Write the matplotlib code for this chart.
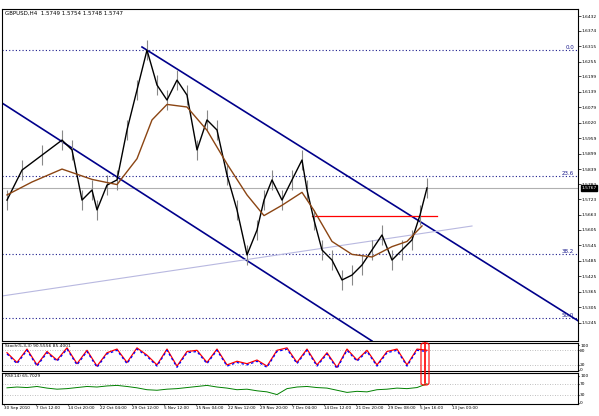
import matplotlib
matplotlib.use("Agg")
import matplotlib.pyplot as plt
from matplotlib.patches import FancyBboxPatch

# ---- data ----
bar_x = [5, 20, 40, 60, 70, 80, 90, 95, 105, 115, 125, 135, 145, 155, 165, 175, 185, 195, 205, 215,
         225, 235, 245, 255, 262, 270, 280, 290, 300, 305, 312, 320, 330, 340, 350, 360, 370, 380,
         390, 400, 410, 418, 425]
close = [1.5720, 1.5836, 1.5894, 1.5952, 1.5914, 1.5720, 1.5759, 1.5682, 1.5778, 1.5798, 1.5991,
         1.6146, 1.6300, 1.6165, 1.6107, 1.6184, 1.6126, 1.5914, 1.6030, 1.5991, 1.5817, 1.5682,
         1.5508, 1.5604, 1.5720, 1.5798, 1.5720, 1.5798, 1.5875, 1.5759, 1.5643, 1.5527, 1.5488,
         1.5411, 1.5430, 1.5469, 1.5527, 1.5585, 1.5488, 1.5527, 1.5566, 1.5662, 1.5767]
ma_x = [5, 30, 60, 90, 115, 135, 150, 165, 185, 205, 225, 245, 262, 280, 300, 312, 330, 350, 370, 390, 405, 420]
ma = [1.5740, 1.5790, 1.5840, 1.5800, 1.5780, 1.5880, 1.6030, 1.6090, 1.6080, 1.5990, 1.5860, 1.5740,
      1.5660, 1.5700, 1.5750, 1.5680, 1.5560, 1.5510, 1.5500, 1.5540, 1.5560, 1.5620]
price_ticks = [1.6432, 1.6374, 1.6315, 1.6255, 1.6199, 1.6139, 1.6079, 1.6020, 1.5959, 1.5899, 1.5839,
               1.5782, 1.5723, 1.5663, 1.5605, 1.5545, 1.5485, 1.5425, 1.5365, 1.5305, 1.5245]
fib_levels = [1.6300, 1.5813, 1.5511, 1.5264]
fib_labels = ["0.0", "23.6", "38.2", "50.0"]
date_labels = ["30 Sep 2010", "7 Oct 12:00", "14 Oct 20:00", "22 Oct 04:00", "29 Oct 12:00",
               "5 Nov 12:00", "15 Nov 04:00", "22 Nov 12:00", "29 Nov 20:00", "7 Dec 04:00",
               "14 Dec 12:00", "21 Dec 20:00", "29 Dec 08:00", "5 Jan 16:00", "13 Jan 00:00"]
stoch_x = list(range(5, 426, 10))
stoch = [70, 30, 85, 20, 75, 40, 90, 25, 80, 15, 70, 85, 30, 90, 60, 20, 85, 15, 75, 80, 30, 85, 20, 35, 25,
         40, 15, 80, 90, 30, 85, 20, 70, 10, 85, 40, 80, 20, 75, 85, 20, 85, 80]
rsi_x = list(range(5, 426, 10))
rsi = [55, 58, 56, 60, 54, 50, 52, 56, 60, 58, 62, 64, 60, 55, 48, 46, 50, 52, 56, 60, 64, 58, 54, 48,
       50, 44, 40, 30, 52, 58, 60, 56, 54, 46, 38, 42, 40, 48, 50, 54, 52, 56, 70]

W, H = 599, 416
fig = plt.figure(figsize=(W / 100, H / 100), dpi=100)
fig.patch.set_facecolor("white")
def ax_at(x0, y0, x1, y1):
    return fig.add_axes([x0 / W, 1 - y1 / H, (x1 - x0) / W, (y1 - y0) / H])

FS = 3.2
ppx = 0.1257 / 325
ytop = 1.6432 + 7 * ppx
ybot = 1.6432 - (341 - 16) * ppx
ax = ax_at(2, 9, 578, 341)
ax.set_xlim(0, 576); ax.set_ylim(ybot, ytop)
for lv, lb in zip(fib_levels, fib_labels):
    ax.axhline(lv, color="#1a1a8c", ls=(0, (1, 2)), lw=0.8)
    ax.text(572, lv, lb, fontsize=4, color="#1a1a8c", ha="right", va="bottom")
ax.axhline(close[-1], color="#b0b0b0", lw=0.8)
def yp(py): return 1.6432 - (py - 16) * ppx
ax.plot([140, 578], [yp(47), yp(322)], color="#00008b", lw=1.2)
ax.plot([0, 370], [yp(103), yp(341)], color="#00008b", lw=1.2)
ax.plot([0, 470], [yp(296), yp(226)], color="#b8b8e0", lw=0.8)
ax.plot([310, 435], [yp(216), yp(216)], color="red", lw=0.9)
ax.vlines(bar_x, [c - 0.004 for c in close], [c + 0.004 for c in close], color="#888888", lw=0.8)
ax.plot(bar_x, close, color="black", lw=1.0)
ax.plot(ma_x, ma, color="#8b4513", lw=1.0)
ax.set_xticks([]); ax.yaxis.tick_right()
ax.set_yticks(price_ticks)
ax.set_yticklabels([f"{t:.4f}" for t in price_ticks], fontsize=FS)
ax.tick_params(axis="y", length=2, width=0.5, pad=0.5)
ax.annotate(f"{close[-1]:.4f}", xy=(1.0, close[-1]), xycoords=("axes fraction", "data"),
            xytext=(2.5, 0), textcoords="offset points", fontsize=FS, color="white", va="center",
            bbox=dict(boxstyle="square,pad=0.15", fc="black", ec="black"))
ax.text(3, ytop - 2 * ppx, "GBPUSD,H4  1.5749 1.5754 1.5748 1.5747", fontsize=4, va="top")
for s in ax.spines.values(): s.set_linewidth(0.8)

a2 = ax_at(2, 343, 578, 371)
a2.set_xlim(0, 576); a2.set_ylim(-5, 110)
for l in (20, 80):
    a2.axhline(l, color="#aaaaaa", ls=(0, (1, 2)), lw=0.6)
a2.plot(stoch_x, stoch, color="red", lw=0.9)
a2.plot(stoch_x, [s - 5 for s in stoch], color="blue", lw=0.9, ls=(0, (2, 2)))
a2.text(3, 105, "Stoch(5,3,3) 90.5556 85.4001", fontsize=FS, va="top")
a2.set_xticks([]); a2.yaxis.tick_right()
a2.set_yticks([0, 20, 80, 100]); a2.set_yticklabels(["0", "20", "80", "100"], fontsize=FS)
a2.tick_params(axis="y", length=1, pad=0.5)

a3 = ax_at(2, 373, 578, 404)
a3.set_xlim(0, 576); a3.set_ylim(-5, 110)
for l in (30, 70):
    a3.axhline(l, color="#aaaaaa", ls=(0, (1, 2)), lw=0.6)
a3.plot(rsi_x, rsi, color="green", lw=0.7)
a3.text(3, 105, "RSI(14) 65.7029", fontsize=FS, va="top")
a3.set_yticks([0, 30, 70, 100]); a3.set_yticklabels(["0", "30", "70", "100"], fontsize=FS)
a3.yaxis.tick_right()
a3.set_xticks([2 + 32 * i for i in range(len(date_labels))])
a3.set_xticklabels(date_labels, fontsize=3.0, ha="left")
a3.tick_params(axis="both", length=1, pad=0.5)

fig.add_artist(FancyBboxPatch((421 / W, 1 - 385 / H), 8 / W, 42 / H,
               boxstyle="round,pad=0,rounding_size=0.005", fc="none", ec="red", lw=0.8,
               transform=fig.transFigure))
fig.add_artist(plt.Line2D([425 / W, 425 / W], [1 - 343 / H, 1 - 383 / H], color="red", lw=1.2,
               transform=fig.transFigure))
fig.savefig("out.png", dpi=100)
